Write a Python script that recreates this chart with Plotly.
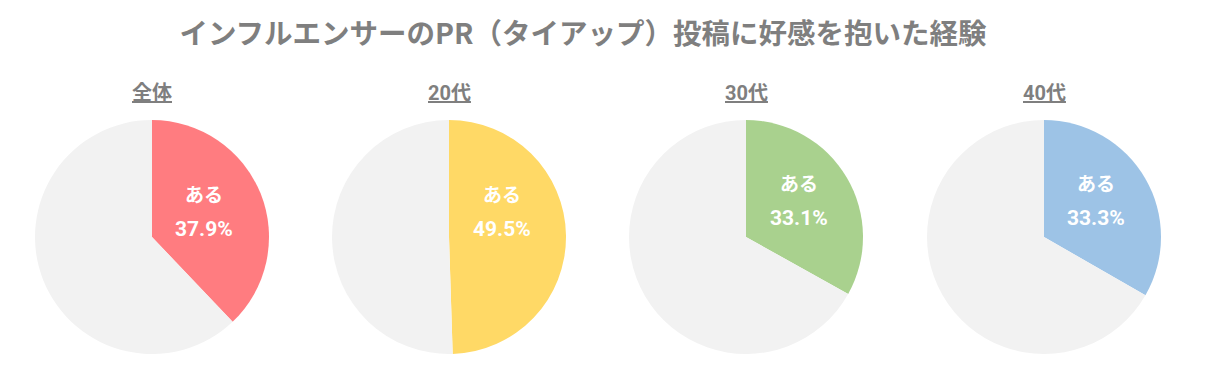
import plotly.graph_objects as go

title = "インフルエンサーのPR（タイアップ）投稿に好感を抱いた経験"
groups = ["全体", "20代", "30代", "40代"]
yes_label = "ある"
no_label = "ない"
yes_values = [37.9, 49.5, 33.1, 33.3]
no_values = [62.1, 50.5, 66.9, 66.7]

# styles / layout
colors = ["#FF7C80", "#FFD966", "#A9D18E", "#9DC3E6"]
rest_color = "#F2F2F2"
W, H = 1218, 387
centers = [152, 449, 746, 1044]
radius = 117
top, bottom = 120, 354
label_dx = [52, 53, 53, 52]
label_dy = [-44, -44, -54, -54]
value_dy = [-8, -8, -19, -19]
jp_font = "Noto Sans CJK JP"
num_font = "Roboto, Noto Sans CJK JP"

fig = go.Figure()
for i, g in enumerate(groups):
    cx = centers[i]
    cy = (top + bottom) / 2
    fig.add_trace(go.Pie(
        labels=[yes_label, no_label],
        values=[yes_values[i], no_values[i]],
        sort=False,
        direction="clockwise",
        rotation=0,
        marker=dict(colors=[colors[i], rest_color], line=dict(width=0)),
        textinfo="none",
        hoverinfo="label+value",
        showlegend=False,
        domain=dict(x=[(cx - radius) / W, (cx + radius) / W],
                    y=[1 - bottom / H, 1 - top / H]),
    ))
    fig.add_annotation(
        text=f"<b><u>{g}</u></b>",
        x=cx / W, y=1 - 93 / H, xref="paper", yref="paper",
        showarrow=False, xanchor="center", yanchor="middle",
        font=dict(size=20, color="#7F7F7F", family=num_font),
    )
    fig.add_annotation(
        text=f"<b>{yes_label}</b>",
        x=(cx + label_dx[i]) / W, y=1 - (cy + label_dy[i]) / H,
        xref="paper", yref="paper", showarrow=False,
        xanchor="center", yanchor="middle",
        font=dict(size=19, color="white", family=jp_font),
    )
    fig.add_annotation(
        text=f"<b>{yes_values[i]:.1f}%</b>",
        x=(cx + label_dx[i]) / W, y=1 - (cy + value_dy[i]) / H,
        xref="paper", yref="paper", showarrow=False,
        xanchor="center", yanchor="middle",
        font=dict(size=21, color="white", family=num_font),
    )

fig.update_layout(
    width=W, height=H,
    margin=dict(l=0, r=0, t=0, b=0),
    paper_bgcolor="white",
    plot_bgcolor="white",
    title=dict(text=f"<b>{title}</b>", x=583 / W, xanchor="center",
               y=1 - 34 / H, yanchor="middle",
               font=dict(size=28.5, color="#7F7F7F", family=jp_font)),
)

fig.write_html("out.html", config={"displayModeBar": False},
               post_script="document.body.style.margin='0';")
